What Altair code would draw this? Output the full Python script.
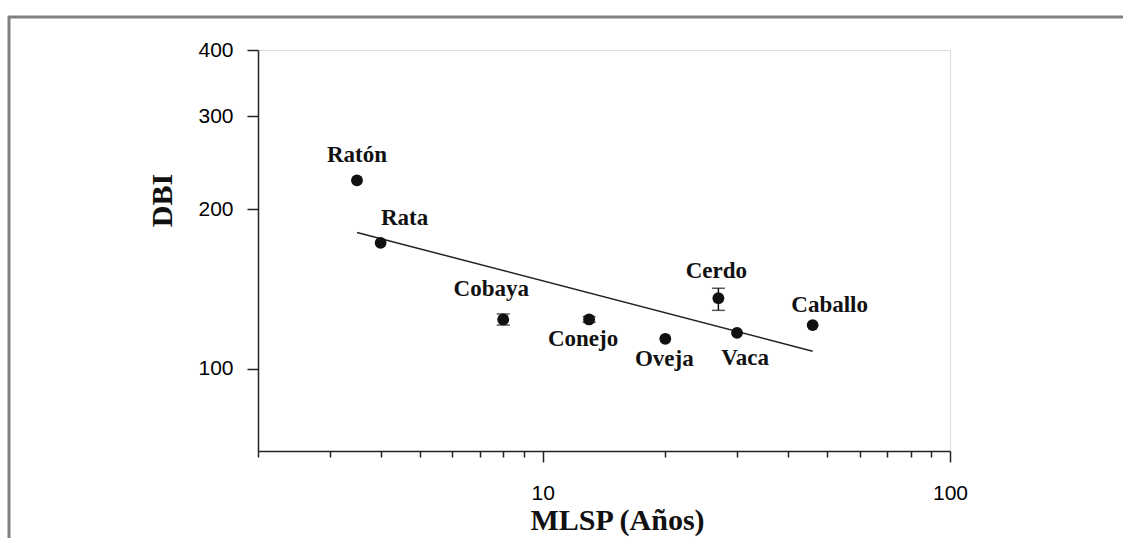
import altair as alt
import pandas as pd

species = ["Ratón", "Rata", "Cobaya", "Conejo", "Oveja", "Cerdo", "Vaca", "Caballo"]
mlsp = [3.5, 4.0, 8.0, 13.0, 20.0, 27.0, 30.0, 46.0]
dbi = [227, 173, 124, 124, 114, 136, 117, 121]
dbi_low = [227, 173, 121, 122.5, 114, 129, 117, 121]
dbi_high = [227, 173, 127, 125.5, 114, 142, 117, 121]

fit_x = [3.5, 46.0]
fit_y = [181, 108]

x_ticks = [2, 3, 4, 5, 6, 7, 8, 9, 10, 20, 30, 40, 50, 60, 70, 80, 90, 100]
y_ticks = [100, 200, 300, 400]

df = pd.DataFrame({"species": species, "mlsp": mlsp, "dbi": dbi,
                   "lo": dbi_low, "hi": dbi_high})
err = df[df["lo"] != df["hi"]]
fit = pd.DataFrame({"mlsp": fit_x, "dbi": fit_y})

PW, PH = 692, 401
LEFT, TOP = 258, 50
W, H = 1123, 538

xs = alt.Scale(type="log", domain=[2, 100], nice=False)
ys = alt.Scale(type="log", domain=[70, 400], nice=False)

x_axis = alt.Axis(
    values=x_ticks,
    labelExpr="datum.value == 10 || datum.value == 100 ? datum.label : ''",
    tickSize={"condition": {"test": "datum.value == 10 || datum.value == 100", "value": 11}, "value": 6},
    tickColor="#222", tickWidth=1.5,
    domainColor="#222", domainWidth=1.5,
    labelFont="Liberation Sans", labelFontSize=21, labelColor="#000",
    labelPadding=20, labelFlush=False, labelOverlap=False, grid=False,
    title="MLSP (Años)", titleFont="Liberation Serif", titleFontSize=30,
    titleFontWeight="bold", titleColor="#111",
    titleX=359, titleY=78, titleAlign="center", titleBaseline="alphabetic",
)
y_axis = alt.Axis(
    values=y_ticks, format="d",
    tickSize=11, tickColor="#222", tickWidth=1.5,
    domainColor="#222", domainWidth=1.5,
    labelFont="Liberation Sans", labelFontSize=21, labelColor="#000",
    labelPadding=14, labelFlush=False, grid=False,
    title="DBI", titleFont="Liberation Serif", titleFontSize=30,
    titleFontWeight="bold", titleColor="#111", titleAngle=270,
    titleX=-96, titleY=150, titleAlign="center", titleBaseline="middle",
)

base = alt.Chart(df)

points = base.mark_circle(size=140, color="#111", opacity=1).encode(
    x=alt.X("mlsp:Q", scale=xs, axis=x_axis),
    y=alt.Y("dbi:Q", scale=ys, axis=y_axis),
)

err_rule = alt.Chart(err).mark_rule(color="#111", strokeWidth=1.5).encode(
    x=alt.X("mlsp:Q", scale=xs), y=alt.Y("lo:Q", scale=ys), y2="hi:Q")
err_lo = alt.Chart(err).mark_tick(orient="horizontal", size=13, thickness=1.5, color="#111").encode(
    x=alt.X("mlsp:Q", scale=xs), y=alt.Y("lo:Q", scale=ys))
err_hi = alt.Chart(err).mark_tick(orient="horizontal", size=13, thickness=1.5, color="#111").encode(
    x=alt.X("mlsp:Q", scale=xs), y=alt.Y("hi:Q", scale=ys))

line = alt.Chart(fit).mark_line(color="#222", strokeWidth=1.5).encode(
    x=alt.X("mlsp:Q", scale=xs), y=alt.Y("dbi:Q", scale=ys))


def label(name, dx, dy):
    return base.transform_filter(alt.datum.species == name).mark_text(
        font="Liberation Serif", fontSize=23, fontWeight="bold", color="#111",
        align="center", baseline="alphabetic", dx=dx, dy=dy,
    ).encode(x=alt.X("mlsp:Q", scale=xs), y=alt.Y("dbi:Q", scale=ys), text="species:N")


labels = [
    label("Ratón", 0, -18),
    label("Rata", 24, -18),
    label("Cobaya", -12, -23),
    label("Conejo", -6, 27),
    label("Oveja", -1, 27),
    label("Vaca", 8, 32),
    label("Cerdo", -2, -20),
    label("Caballo", 17, -13),
]

frame_df = pd.DataFrame({"k": [0]})
frame_top = alt.Chart(frame_df).mark_rule(color="#808080", strokeWidth=3).encode(
    x=alt.value(8 - LEFT), x2=alt.value(W - LEFT), y=alt.value(17 - TOP))
frame_left = alt.Chart(frame_df).mark_rule(color="#808080", strokeWidth=3).encode(
    x=alt.value(9 - LEFT), y=alt.value(16 - TOP), y2=alt.value(H - TOP))

chart = alt.layer(
    line, err_rule, err_lo, err_hi, points, *labels, frame_top, frame_left
).properties(
    width=PW, height=PH,
    autosize=alt.AutoSizeParams(type="none"),
    padding={"left": LEFT, "top": TOP, "right": W - LEFT - PW, "bottom": H - TOP - PH},
).configure_view(
    stroke="#333", strokeWidth=1.5
).configure(background="white")

chart.save("out.html", embed_options={"renderer": "svg", "actions": False})
